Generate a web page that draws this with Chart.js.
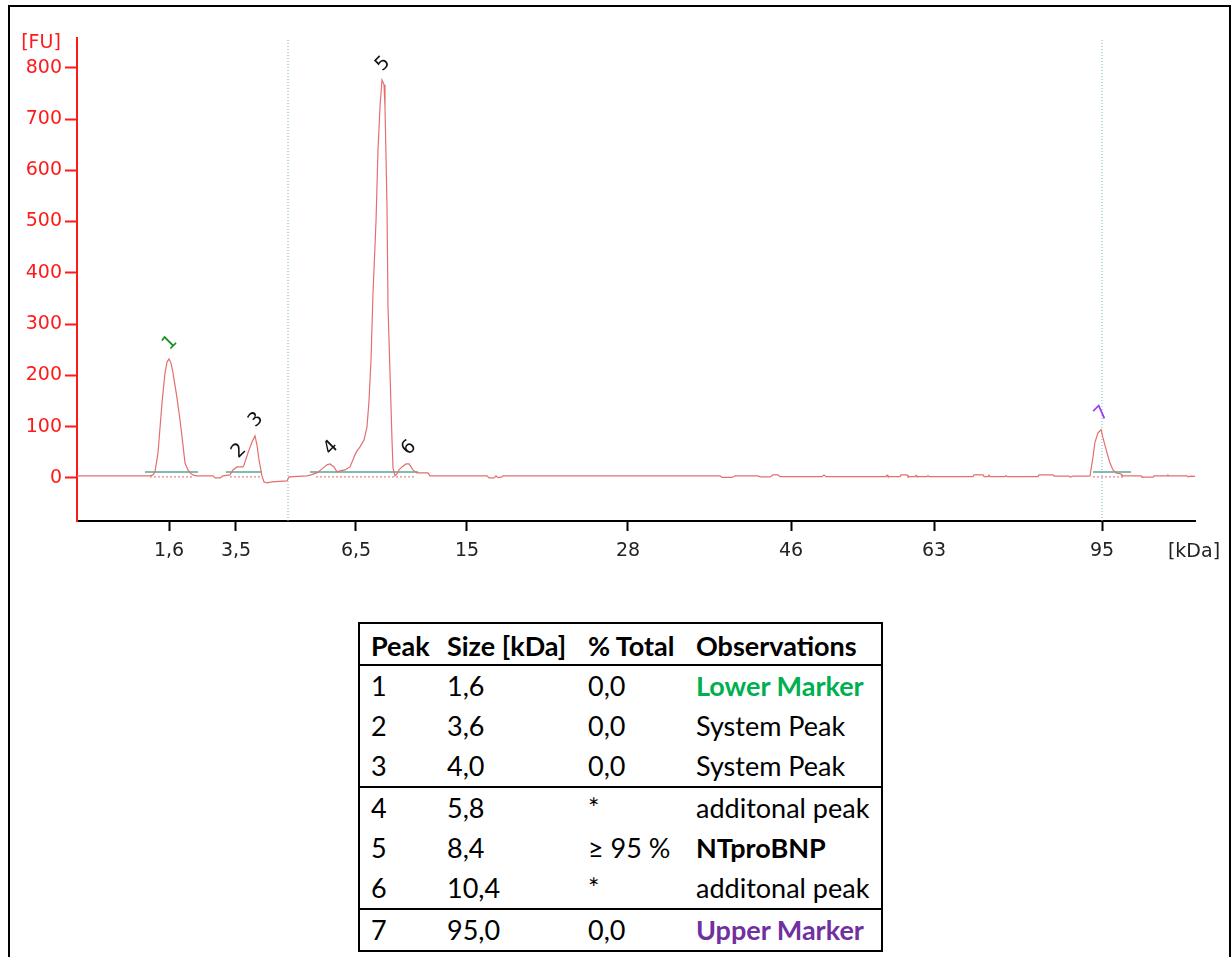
<!DOCTYPE html>
<html>
<head>
<meta charset="utf-8">
<script src="https://cdn.jsdelivr.net/npm/chart.js@4.4.1/dist/chart.umd.min.js"></script>
<style>
  html, body { margin: 0; padding: 0; background: #fff; width: 1231px; height: 957px; overflow: hidden; }
  #frame { position: absolute; left: 8px; top: 5px; width: 1219px; height: 970px; border: 2px solid #000; border-bottom: none; box-sizing: content-box; }
  #chartWrap { position: absolute; left: 0; top: 0; width: 1231px; height: 600px; }
  #peakTable { position: absolute; left: 358px; top: 622px; width: 523px; border-collapse: collapse; font-family: Lato, "Open Sans", sans-serif; font-size: 27px; color: #000; table-layout: fixed; }
  #peakTable td, #peakTable th { padding: 0 0 0 11px; text-align: left; white-space: nowrap; line-height: 30px; }
  #peakTable th { font-weight: bold; height: 37px; padding-top: 3px; }
  #peakTable td { height: 40px; }
  #peakTable { border: 2px solid #000; }
  #peakTable tr.sep td, #peakTable tr.sep th { border-bottom: 2px solid #000; }
</style>
</head>
<body>
<div id="frame"></div>
<div id="chartWrap"><canvas id="c" width="1231" height="600"></canvas></div>
<table id="peakTable">
  <colgroup><col style="width:77px"><col style="width:141px"><col style="width:108px"><col style="width:197px"></colgroup>
  <thead id="thead"></thead>
  <tbody id="tbody"></tbody>
</table>
<script>
// ---------- DATA ----------
// migration time (s) and fluorescence (FU) of the electropherogram trace
const traceTime = [10, 13.65, 13.8, 13.9, 14.05, 14.25, 14.4, 14.5, 14.6, 14.7, 14.8, 15.0, 15.15, 15.3, 15.4, 15.55, 15.65, 15.8, 15.95,
  16.8, 16.9, 17.15, 17.3, 17.65, 17.8, 18.0, 18.3, 18.35, 18.55, 18.75, 18.9, 19.0, 19.1, 19.25, 19.35, 19.5, 19.75, 20.5, 20.6,
  21.5, 21.7, 22.0, 22.25, 22.5, 22.65, 22.85, 23.0, 23.15, 23.4, 23.65, 23.9, 24.0, 24.15, 24.35, 24.5, 24.6, 24.7, 24.8, 24.95,
  25.05, 25.15, 25.25, 25.35, 25.4, 25.5, 25.55, 25.65, 25.75, 25.8, 25.9, 26.0, 26.1, 26.25, 26.45, 26.6, 26.8, 27.0, 27.55, 27.65,
  30.5, 30.6, 30.85, 30.95, 31.05, 31.25, 31.3, 42.15, 42.25, 42.75, 42.9, 44.05, 44.15, 44.65, 44.8, 45.05, 45.15, 47.25, 47.35, 47.45,
  50.45, 50.5, 50.55, 51.15, 51.2, 51.5, 51.55, 51.9, 51.95, 52.0, 52.5, 52.55, 52.6, 54.8, 54.85, 55.3, 55.35, 55.55, 55.6, 55.65,
  56.4, 56.45, 56.5, 58.05, 58.1, 58.8, 58.85, 59.6, 59.65, 59.8, 60.55, 60.65, 60.8, 60.9, 61.05, 61.2, 61.3, 61.5, 61.65, 61.8,
  61.95, 62.2, 62.25, 63.2, 63.25, 63.8, 63.85, 64.5, 64.55, 64.6, 65.5, 65.55, 65.7, 65.9];
const traceFU = [3.9, 3.9, 5.9, 12.3, 48.8, 146, 205, 226, 232, 224, 205, 156, 113, 64, 29, 15.6, 9.8, 5.9, 3.9,
  3.9, 0, 0, 3.9, 5.9, 15.6, 21.5, 21.5, 25.4, 48.8, 70.2, 82, 64, 35.1, 3.9, -7.8, -9.8, -7.8, -5.9, 2,
  3.9, 5.9, 9.8, 17.6, 25.4, 27.3, 21.5, 11.7, 13.7, 15.6, 21.5, 45, 52.7, 60.5, 74, 99.5, 150, 230, 360, 500,
  640, 724, 776, 767, 724, 529, 334, 205, 74, 19.5, 3.9, 7.8, 15.6, 21.5, 27.3, 27.3, 15.6, 9.8, 9.8, 3.9,
  3.9, 0, 0, 3.9, 0.5, 2, 3.9, 3.9, 1, 1, 3.9, 3.9, 2, 2, 5.9, 5.9, 2.5, 2.5, 5.5, 2.5,
  2.5, 5.5, 2.5, 2.5, 5.9, 5.9, 2.5, 2.5, 5, 2.5, 2.5, 4.5, 2.5, 2.5, 5.9, 5.9, 2.5, 2.5, 5.5, 2.5,
  2.5, 4.5, 2.5, 2.5, 5.9, 5.9, 3.5, 3.5, 1.5, 3.5, 3.5, 3.9, 41, 70, 88, 94, 78, 49, 29, 15.6,
  9.8, 7.8, 3.9, 3.9, 1.5, 1.5, 3.9, 3.9, 5.5, 3.9, 3.9, 2, 3.5, 3.0];

// x-axis ticks: migration time position and size label (kDa)
const tickTimes = [14.6, 17.95, 23.95, 29.5, 37.55, 45.7, 52.85, 61.25];
const tickLabels = ['1,6', '3,5', '6,5', '15', '28', '46', '63', '95'];
const yTicks = [0, 100, 200, 300, 400, 500, 600, 700, 800];

// detected peaks: number, apex time, apex height
const peakNums = ['1', '2', '3', '4', '5', '6', '7'];
const peakTimes = [14.6, 18.05, 18.9, 22.65, 25.25, 26.55, 61.2];
const peakFU = [232, 21.5, 82, 27.3, 776, 27.3, 94];

// integration baselines (start time, end time) and their level
const intStart = [13.4, 17.45, 21.65, 60.8];
const intEnd = [16.05, 19.25, 27.05, 62.7];
const intLevel = 11.7;
const baseStart = [13.65, 17.65, 21.95, 60.8];
const baseEnd = [15.8, 19.25, 26.9, 62.25];
const baseLevel = 2;

// marker lines (lower / upper marker alignment)
const markerTimes = [20.55, 61.25];

// table
const tableHeader = ['Peak', 'Size [kDa]', '% Total', 'Observations'];
const tablePeak = ['1', '2', '3', '4', '5', '6', '7'];
const tableSize = ['1,6', '3,6', '4,0', '5,8', '8,4', '10,4', '95,0'];
const tableTotal = ['0,0', '0,0', '0,0', '*', '≥ 95 %', '*', '0,0'];
const tableObs = ['Lower Marker', 'System Peak', 'System Peak', 'additonal peak', 'NTproBNP', 'additonal peak', 'Upper Marker'];

// ---------- STYLE ----------
const X_MIN = 10, X_MAX = 65.9, Y_MIN = -84, Y_MAX = 858;
const peakColors = ['#1a8f1a', '#111', '#111', '#111', '#111', '#111', '#9b3cf0'];
const obsStyles = [
  {color: '#00b050', weight: 'bold'}, {}, {}, {}, {weight: 'bold'}, {}, {color: '#7030a0', weight: 'bold'}
];
const axisFont = {family: 'DejaVu Sans', size: 19};

// ---------- TABLE ----------
(function buildTable() {
  const thead = document.getElementById('thead');
  const trh = document.createElement('tr');
  trh.className = 'sep';
  tableHeader.forEach(h => { const th = document.createElement('th'); th.textContent = h; trh.appendChild(th); });
  thead.appendChild(trh);
  const tbody = document.getElementById('tbody');
  tablePeak.forEach((p, i) => {
    const tr = document.createElement('tr');
    if (i === 2 || i === 5) tr.className = 'sep';
    [p, tableSize[i], tableTotal[i], tableObs[i]].forEach((v, j) => {
      const td = document.createElement('td');
      td.textContent = v;
      if (j === 3) {
        if (obsStyles[i].color) td.style.color = obsStyles[i].color;
        if (obsStyles[i].weight) td.style.fontWeight = obsStyles[i].weight;
      }
      tr.appendChild(td);
    });
    tbody.appendChild(tr);
  });
})();

// ---------- CHART ----------
const segDatasets = [];
intStart.forEach((s, i) => {
  segDatasets.push({
    data: [{x: s, y: intLevel}, {x: intEnd[i], y: intLevel}],
    borderColor: '#5aa596', borderWidth: 1.5, pointRadius: 0, order: 2
  });
});
baseStart.forEach((s, i) => {
  segDatasets.push({
    data: [{x: s, y: baseLevel}, {x: baseEnd[i], y: baseLevel}],
    borderColor: '#e06a6a', borderWidth: 1, borderDash: [2, 2], pointRadius: 0, order: 3
  });
});
markerTimes.forEach(t => {
  segDatasets.push({
    data: [{x: t, y: Y_MIN}, {x: t, y: Y_MAX}],
    borderColor: '#6fb8b2', borderWidth: 1, borderDash: [1, 2], pointRadius: 0, order: 4
  });
});

const labelPlugin = {
  id: 'peakLabels',
  afterDatasetsDraw(chart) {
    const {ctx, scales: {x, y}} = chart;
    ctx.save();
    ctx.font = '19px "DejaVu Sans"';
    ctx.textAlign = 'center';
    ctx.textBaseline = 'middle';
    peakNums.forEach((n, i) => {
      const px = x.getPixelForValue(peakTimes[i]);
      const py = y.getPixelForValue(peakFU[i]) - 16;
      ctx.save();
      ctx.translate(px + 1, py);
      ctx.rotate(-45 * Math.PI / 180);
      ctx.fillStyle = peakColors[i];
      ctx.fillText(n, 0, 0);
      ctx.restore();
    });
    // axis unit labels
    ctx.fillStyle = '#ff1a1a';
    ctx.fillText('[FU]', 41, 43);
    ctx.fillStyle = '#222';
    ctx.fillText('[kDa]', 1194, 552);
    ctx.restore();
  }
};

new Chart(document.getElementById('c'), {
  type: 'line',
  data: {
    datasets: [{
      data: traceTime.map((t, i) => ({x: t, y: traceFU[i]})),
      borderColor: '#e46f6f', borderWidth: 1.2, pointRadius: 0, tension: 0, order: 1
    }, ...segDatasets]
  },
  options: {
    responsive: false,
    animation: false,
    devicePixelRatio: 1,
    layout: {padding: {left: 9, top: 38, right: 36, bottom: 0}},
    plugins: {legend: {display: false}, tooltip: {enabled: false}},
    scales: {
      x: {
        type: 'linear', min: X_MIN, max: X_MAX,
        border: {display: true, color: '#000', width: 2},
        grid: {display: true, drawOnChartArea: false, drawTicks: true, tickLength: 10, tickColor: '#000', tickWidth: 2},
        ticks: {font: axisFont, color: '#222', padding: 9, autoSkip: false, maxRotation: 0,
          callback: (v) => { const k = tickTimes.indexOf(v); return k >= 0 ? tickLabels[k] : ''; }},
        afterBuildTicks: s => { s.ticks = tickTimes.map(v => ({value: v})); },
        afterFit: s => { s.height = 79; }
      },
      y: {
        type: 'linear', min: Y_MIN, max: Y_MAX,
        border: {display: true, color: '#ff1a1a', width: 2},
        grid: {display: true, drawOnChartArea: false, drawTicks: true, tickLength: 12, tickColor: '#ff1a1a', tickWidth: 2},
        ticks: {font: axisFont, color: '#ff1a1a', padding: 3},
        afterBuildTicks: s => { s.ticks = yTicks.map(v => ({value: v})); },
        afterFit: s => { s.width = 68; }
      }
    }
  },
  plugins: [labelPlugin]
});
</script>
</body>
</html>
